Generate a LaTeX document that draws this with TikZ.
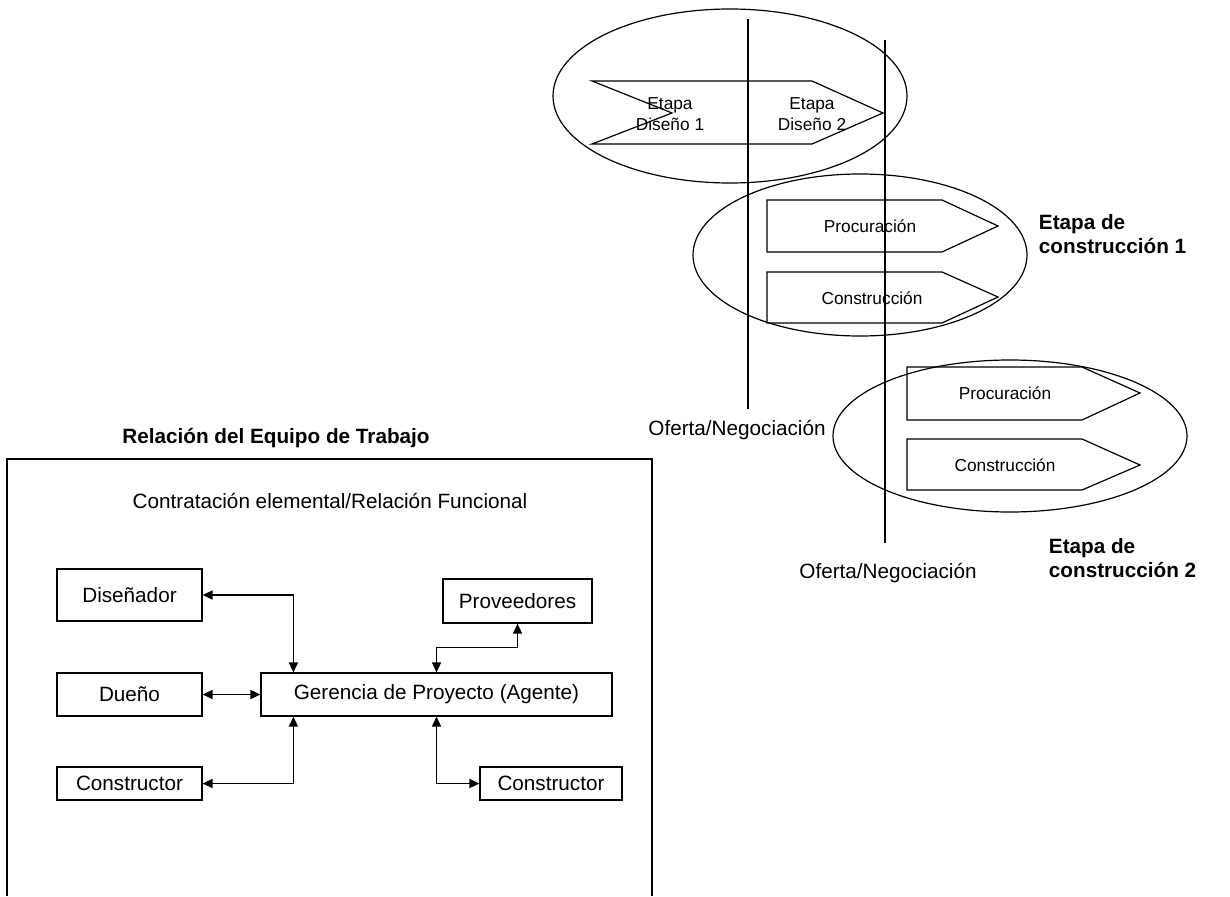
\documentclass[tikz,border=0pt]{standalone}
\usepackage{fontspec}
\setmainfont{Liberation Sans}
\usetikzlibrary{arrows.meta}

\tikzset{
  caja/.style={draw, inner sep=0pt, font=\fontsize{20.7}{24}\selectfont},
  flecha/.style={line width=1.6pt, {Triangle[length=10pt,width=9pt]}-{Triangle[length=10pt,width=9pt]}},
  chico/.style={font=\fontsize{17.3}{21}\selectfont, align=center},
  texto/.style={font=\fontsize{20.7}{24}\selectfont},
  negrita/.style={font=\fontsize{20.7}{23.5}\selectfont\bfseries, align=left},
}

\begin{document}
\begin{tikzpicture}[x=1pt, y=-1pt, line width=1.2pt]
\useasboundingbox (0,0) rectangle (1230,896);

% etapas de diseno
\draw (730,96) ellipse [x radius=177pt, y radius=87pt];
\draw (592,81) -- (812,81) -- (883,113) -- (812,144) -- (592,144) -- (672,113) -- cycle;
\node[chico] (dis1) at (670,114) {Etapa\\Diseño 1};
\node[chico] (dis2) at (812,114) {Etapa\\Diseño 2};

% etapa de construccion 1
\draw (860,255) ellipse [x radius=167pt, y radius=81pt];
\draw (767,200) -- (942,200) -- (998,226) -- (942,252) -- (767,252) -- cycle;
\draw (767,272) -- (942,272) -- (998,297) -- (942,323) -- (767,323) -- cycle;
\node[chico] (proc1) at (870,226) {Procuración};
\node[chico] (cons1) at (872,298) {Construcción};
\node[negrita, anchor=west] (etapa1) at (1035,234) {Etapa de\\construcción 1};

% etapa de construccion 2
\draw (1010,436) ellipse [x radius=177pt, y radius=76pt];
\draw (907,367) -- (1082,367) -- (1140,393) -- (1082,420) -- (907,420) -- cycle;
\draw (907,439) -- (1082,439) -- (1140,465) -- (1082,490) -- (907,490) -- cycle;
\node[chico] (proc2) at (1005,393) {Procuración};
\node[chico] (cons2) at (1005,465) {Construcción};
\node[negrita, anchor=west] (etapa2) at (1045,558) {Etapa de\\construcción 2};

% ofertas
\draw (748,19) -- (748,409);
\draw (885,40) -- (885,543);
\node[texto] (of1) at (737,430) {Oferta/Negociación};
\node[texto] (of2) at (888,573) {Oferta/Negociación};

% equipo de trabajo
\draw (7,896) -- (7,459) -- (652,459) -- (652,896);
\node[negrita] (titulo) at (276,438) {Relación del Equipo de Trabajo};
\node[texto] (contr) at (330,501) {Contratación elemental/Relación Funcional};

\node[caja, minimum width=145pt, minimum height=52pt] (dis) at (129.5,595) {Diseñador};
\node[caja, minimum width=145pt, minimum height=43pt] (duen) at (129.5,694.5) {Dueño};
\node[caja, minimum width=145pt, minimum height=33pt] (consL) at (129.5,783.5) {Constructor};
\node[caja, minimum width=351pt, minimum height=43pt] (ger) at (436.5,694.5) {Gerencia de Proyecto (Agente)};
\node[caja, minimum width=149pt, minimum height=44pt] (prov) at (517.5,601) {Proveedores};
\node[caja, minimum width=142pt, minimum height=33pt] (consR) at (551,783.5) {Constructor};

\draw[flecha] (dis.east) -| ([xshift=33pt]ger.north west);
\draw[flecha] (duen.east) -- (ger.west);
\draw[flecha] (consL.east) -| ([xshift=33pt]ger.south west);
\draw[flecha] (ger.north) -- ++(0,-25) -| (prov.south);
\draw[flecha] (ger.south) |- (consR.west);
\end{tikzpicture}
\end{document}
